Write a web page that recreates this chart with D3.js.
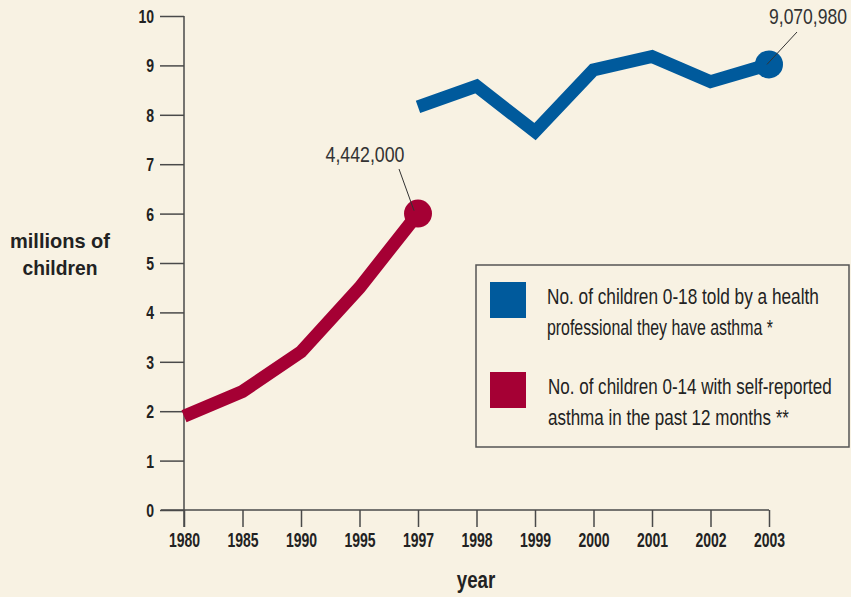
<!DOCTYPE html>
<html>
<head>
<meta charset="utf-8">
<script src="https://cdn.jsdelivr.net/npm/d3@7"></script>
<style>
  html, body { margin: 0; padding: 0; background: #F8F2E3; }
  svg { display: block; }
  text { font-family: "Liberation Sans", Arial, sans-serif; }
</style>
</head>
<body>
<svg id="chart" width="851" height="597"></svg>
<script>
const years = ["1980", "1985", "1990", "1995", "1997", "1998", "1999", "2000", "2001", "2002", "2003"];
const yTicks = [0, 1, 2, 3, 4, 5, 6, 7, 8, 9, 10];

const selfReportedYears = ["1980", "1985", "1990", "1995", "1997"];
const selfReportedValues = [1.9, 2.4, 3.2, 4.5, 6.0];

const diagnosedYears = ["1997", "1998", "1999", "2000", "2001", "2002", "2003"];
const diagnosedValues = [8.16, 8.58, 7.66, 8.91, 9.18, 8.67, 9.02];

const legendLabels = [
  ["No. of children 0-18 told by a health", "professional they have asthma *"],
  ["No. of children 0-14 with self-reported", "asthma in the past 12 months **"]
];
const endLabels = ["4,442,000", "9,070,980"];

const blue = "#005A9C";
const red = "#A50034";
const axisColor = "#4a4a4a";
const textColor = "#222";

// The reference uses a condensed face; squeeze text horizontally about its anchor x.
function squeeze(el, factor, ax) {
  el.setAttribute("transform", `translate(${ax},0) scale(${factor},1) translate(${-ax},0)`);
}
function squeezeTo(el, width, ax) {
  const len = el.getComputedTextLength();
  squeeze(el, width / len, ax);
}

const svg = d3.select("#chart");
const x = d3.scalePoint().domain(years).range([184, 769]);
const y = d3.scaleLinear().domain([0, 10]).range([510, 16]);

// Y axis
const yAxis = d3.axisLeft(y).tickValues(yTicks).tickSize(24).tickPadding(6).tickFormat(d3.format("d"));
const gy = svg.append("g").attr("transform", "translate(184,0)").call(yAxis);
gy.select(".domain").attr("d", `M0,${y(10)}V527`).attr("stroke", axisColor).attr("stroke-width", 1.5);
gy.selectAll(".tick line").attr("stroke", axisColor).attr("stroke-width", 1.5);
gy.selectAll(".tick text").attr("fill", textColor)
  .style("font-family", "'Liberation Sans', Arial, sans-serif")
  .style("font-size", "18px").style("font-weight", "bold").attr("dy", "0.36em")
  .each(function() { squeeze(this, 0.78, -30); });

// X axis
const xAxis = d3.axisBottom(x).tickSize(17).tickPadding(6);
const gx = svg.append("g").attr("transform", "translate(0,510)").call(xAxis);
gx.select(".domain").attr("d", `M161,0H769`).attr("stroke", axisColor).attr("stroke-width", 1.5);
gx.selectAll(".tick line").attr("stroke", axisColor).attr("stroke-width", 1.5);
gx.selectAll(".tick text").attr("fill", textColor)
  .style("font-family", "'Liberation Sans', Arial, sans-serif")
  .style("font-size", "20px").style("font-weight", "bold")
  .each(function() { squeeze(this, 0.7, 0); });

// Axis titles
svg.append("text").attr("x", 476).attr("y", 588)
  .attr("text-anchor", "middle").attr("fill", textColor)
  .style("font-size", "24px").style("font-weight", "bold").text("year")
  .each(function() { squeeze(this, 0.78, 476); });
const yTitle = ["millions of", "children"];
const yTitleWidths = [100, 75];
yTitle.forEach((t, i) => {
  svg.append("text").attr("x", 60).attr("y", 248 + i * 27).attr("text-anchor", "middle")
    .attr("fill", textColor).style("font-size", "21px").style("font-weight", "bold").text(t)
    .each(function() { squeezeTo(this, yTitleWidths[i], 60); });
});

// Lines
const line = d3.line().x(d => x(d[0])).y(d => y(d[1]));
const redData = selfReportedYears.map((yr, i) => [yr, selfReportedValues[i]]);
const blueData = diagnosedYears.map((yr, i) => [yr, diagnosedValues[i]]);

svg.append("path").datum(redData).attr("d", line).attr("fill", "none")
  .attr("stroke", red).attr("stroke-width", 13).attr("stroke-linejoin", "miter").attr("stroke-miterlimit", 2);
svg.append("path").datum(blueData).attr("d", line).attr("fill", "none")
  .attr("stroke", blue).attr("stroke-width", 13).attr("stroke-linejoin", "miter").attr("stroke-miterlimit", 2);

const redEnd = redData[redData.length - 1];
const blueEnd = blueData[blueData.length - 1];
svg.append("circle").attr("cx", x(redEnd[0])).attr("cy", y(redEnd[1])).attr("r", 14).attr("fill", red);
svg.append("circle").attr("cx", x(blueEnd[0])).attr("cy", y(blueEnd[1])).attr("r", 14).attr("fill", blue);

// End labels with leader lines
svg.append("line").attr("x1", 399).attr("y1", 169).attr("x2", x(redEnd[0]) - 4).attr("y2", y(redEnd[1]) - 3)
  .attr("stroke", "#333").attr("stroke-width", 1);
svg.append("text").attr("x", 365).attr("y", 162).attr("text-anchor", "middle")
  .attr("fill", "#333").style("font-size", "22px").text(endLabels[0])
  .each(function() { squeezeTo(this, 79, 365); });

svg.append("line").attr("x1", 797).attr("y1", 32).attr("x2", x(blueEnd[0]) - 2).attr("y2", y(blueEnd[1]))
  .attr("stroke", "#333").attr("stroke-width", 1);
svg.append("text").attr("x", 808).attr("y", 24).attr("text-anchor", "middle")
  .attr("fill", "#333").style("font-size", "22px").text(endLabels[1])
  .each(function() { squeezeTo(this, 78, 808); });

// Legend
svg.append("rect").attr("x", 476).attr("y", 265).attr("width", 373).attr("height", 182)
  .attr("fill", "none").attr("stroke", "#555").attr("stroke-width", 1.5);
const legendColors = [blue, red];
const legendTops = [282, 372];
const legendWidths = [[272, 226], [284, 241]];
legendLabels.forEach((lines, i) => {
  svg.append("rect").attr("x", 490).attr("y", legendTops[i]).attr("width", 36).attr("height", 36)
    .attr("fill", legendColors[i]);
  lines.forEach((ln, j) => {
    const lx = 547 + i;
    svg.append("text").attr("x", lx).attr("y", legendTops[i] + 22 + j * 31)
      .attr("fill", textColor).style("font-size", "22px").text(ln)
      .each(function() { squeezeTo(this, legendWidths[i][j], lx); });
  });
});
</script>
</body>
</html>
